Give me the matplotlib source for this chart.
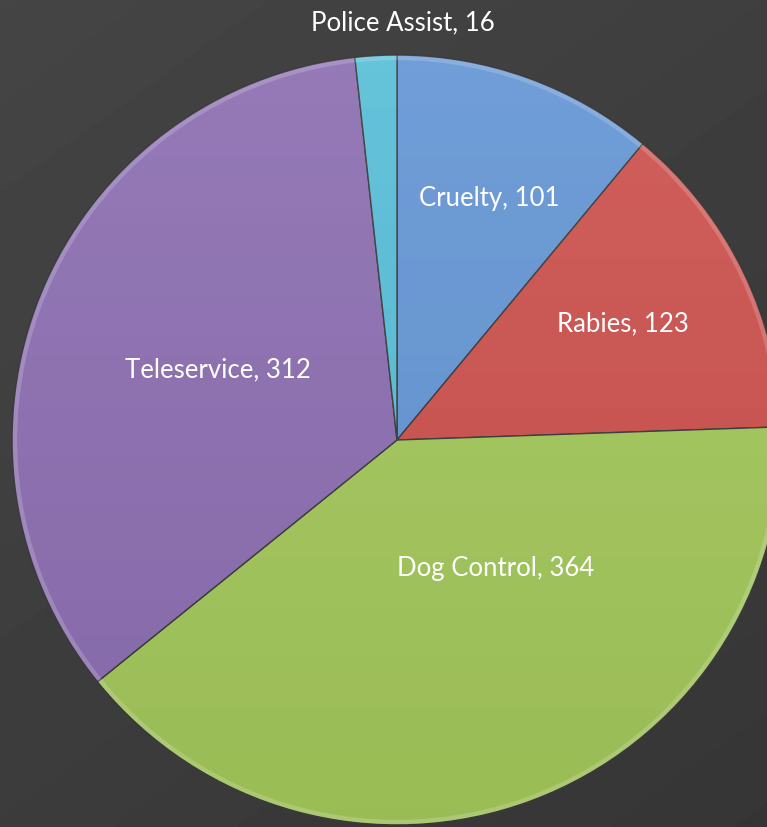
import numpy as np
import matplotlib
matplotlib.use('Agg')
import matplotlib.pyplot as plt
from matplotlib.patches import Circle

categories = ['Cruelty', 'Rabies', 'Dog Control', 'Teleservice', 'Police Assist']
counts = [101, 123, 364, 312, 16]
colors = ['#6596d4', '#cd524e', '#a4c85c', '#8d6fb2', '#58bed7']

# label placement: fraction of radius and angle shift from the slice middle (deg)
label_dist = [0.67, 0.66, 0.42, 0.50, 1.085]
label_shift = [-1, 1, 17, 1, -4]

W, H = 767, 827
CX, CY, R = 397, 387, 385  # pie centre and radius in pixels (y from bottom)


def main():
    plt.rcParams['font.family'] = ['Lato', 'DejaVu Sans']
    fig = plt.figure(figsize=(W / 100, H / 100), dpi=100)

    # dark gradient background
    bg = fig.add_axes([0, 0, 1, 1], zorder=0)
    yy, xx = np.mgrid[0:1:200j, 0:1:200j]
    shade = 0.27 - 0.06 * (0.6 * yy + 0.4 * xx)
    bg.imshow(shade, cmap='gray', vmin=0, vmax=1, extent=[0, 1, 0, 1],
              aspect='auto', origin='upper')
    bg.axis('off')

    ax = fig.add_axes([0, 0, 1, 1], zorder=1)
    ax.patch.set_visible(False)
    wedges, _ = ax.pie(counts, colors=colors, startangle=90, counterclock=False,
                       radius=1, center=(0, 0),
                       wedgeprops=dict(edgecolor='#3a3a3a', linewidth=1.0))

    # soft shading over the pie: lighter on top, a touch darker below
    g = np.linspace(0, 1, 256)[:, None] * np.ones((1, 256))
    dark = np.zeros((256, 256, 4))
    dark[..., 3] = 0.06 * (1 - g)
    im = ax.imshow(dark, extent=[-1, 1, -1, 1], origin='lower', zorder=3)
    im.set_clip_path(Circle((0, 0), 1, transform=ax.transData))
    hi = np.zeros((256, 256, 4))
    hi[..., :3] = 1
    hi[..., 3] = 0.08 * g
    im2 = ax.imshow(hi, extent=[-1, 1, -1, 1], origin='lower', zorder=3)
    im2.set_clip_path(Circle((0, 0), 1, transform=ax.transData))

    # bevel highlight along the rim
    rim = Circle((0, 0), 0.992, fill=False, edgecolor='white', alpha=0.18,
                 linewidth=3, zorder=4)
    ax.add_patch(rim)

    for w, cat, n, d, s in zip(wedges, categories, counts, label_dist, label_shift):
        mid = np.deg2rad((w.theta1 + w.theta2) / 2 + s)
        ax.text(d * np.cos(mid), d * np.sin(mid), f'{cat}, {n}',
                color='white', fontsize=18.5, ha='center', va='center', zorder=5)

    ax.set_xlim(-CX / R, (W - CX) / R)
    ax.set_ylim(-CY / R, (H - CY) / R)
    ax.set_aspect('auto')
    ax.axis('off')

    fig.savefig('out.png', dpi=100, facecolor='#3d3d3d')


if __name__ == '__main__':
    main()
